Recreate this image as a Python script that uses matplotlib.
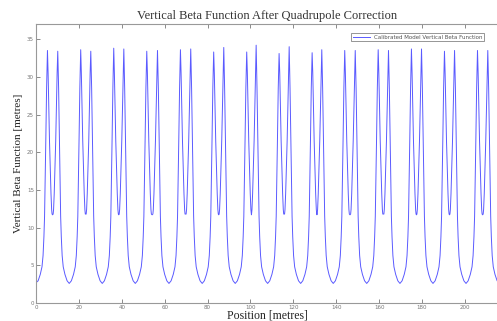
import numpy as np
import matplotlib
matplotlib.use("Agg")
import matplotlib.pyplot as plt

# --- values ----------------------------------------------------------------
# lattice minima (position m, beta m)
MIN_POS = [0.0, 15.5, 30.9, 46.3, 62.0, 77.5, 92.9, 108.0, 123.4, 138.6,
           154.2, 169.7, 185.1, 200.5, 216.0]
MIN_VAL = [2.7, 2.6, 2.6, 2.6, 2.6, 2.6, 2.6, 2.6, 2.6, 2.6,
           2.6, 2.6, 2.6, 2.6, 2.6]
# twin peaks in each cell and the dip between them
PEAK_L = [33.5, 33.6, 33.8, 33.4, 33.6, 33.3, 33.3, 33.1, 33.2, 33.5, 33.6, 33.7, 33.4, 33.5]
PEAK_R = [33.4, 33.4, 33.7, 33.5, 33.7, 33.9, 34.2, 34.0, 33.6, 33.5, 33.5, 33.7, 33.5, 33.5]
DIP_VAL = [11.7, 11.8, 11.7, 11.7, 11.8, 11.7, 11.7, 11.8, 11.7, 11.7, 11.8, 11.7, 11.7, 11.7]

# shape of a half cell, distance from the minimum (m) vs beta (m)
HALF_U = [1.0, 2.0, 2.8, 3.3, 3.7, 4.0, 4.3, 4.6, 4.95, 5.35, 5.65, 6.0, 6.3, 6.7, 7.0, 7.3, 7.5]
HALF_V = [2.95, 3.8, 4.8, 6.3, 8.8, 11.5, 16.5, 22.0, 28.5, 33.5, 30.5, 25.5, 21.5, 17.5, 14.5, 12.4, 11.8]
PEAK_IDX = 9

X_TICKS = [0, 20, 40, 60, 80, 100, 120, 140, 160, 180, 200]
Y_TICKS = [0, 5, 10, 15, 20, 25, 30, 35]

# --- build the polyline ----------------------------------------------------
xs, ys = [], []
for k in range(len(PEAK_L)):
    m0, m1 = MIN_POS[k], MIN_POS[k + 1]
    left = list(HALF_V)
    left[PEAK_IDX] = PEAK_L[k]
    right = list(HALF_V)
    right[PEAK_IDX] = PEAK_R[k]
    xs.append(m0); ys.append(MIN_VAL[k])
    xs += [m0 + u for u in HALF_U]; ys += left
    xs.append((m0 + m1) / 2); ys.append(DIP_VAL[k])
    xs += [m1 - u for u in HALF_U[::-1]]; ys += right[::-1]
xs.append(MIN_POS[-1]); ys.append(MIN_VAL[-1])

# --- figure ----------------------------------------------------------------
fig = plt.figure(figsize=(4.97, 3.21), dpi=100)
ax = fig.add_axes([0.0724, 0.056, 0.93, 0.869])
ax.plot(xs, ys, color="#5a5aff", linewidth=0.7,
        label="Calibrated Model Vertical Beta Function")

ax.set_xlim(0, 215.5)
ax.set_ylim(0, 37)
ax.set_xticks(X_TICKS)
ax.set_yticks(Y_TICKS)
ax.tick_params(direction="in", length=3, width=0.6, labelsize=4,
               colors="#777777", top=True, right=False, pad=1.5)
for sp in ax.spines.values():
    sp.set_color("#999999")
    sp.set_linewidth(0.8)
ax.spines["right"].set_visible(False)

serif = ["Liberation Serif", "DejaVu Serif"]
ax.set_title("Vertical Beta Function After Quadrupole Correction",
             family=serif, fontsize=9, color="#333333", pad=4)
ax.set_xlabel("Position [metres]", family=serif, fontsize=8.5, color="#222222")
ax.xaxis.set_label_coords(0.5, -0.022)
ax.set_ylabel("Vertical Beta Function [metres]", family=serif, fontsize=8,
              color="#222222", labelpad=3)

leg = ax.legend(loc="upper right", bbox_to_anchor=(0.975, 0.978), fontsize=4.0,
                frameon=True, fancybox=False, handlelength=3.2, borderpad=0.3,
                handletextpad=0.6, labelcolor="#555555")
leg.get_frame().set_edgecolor("#666666")
leg.get_frame().set_linewidth(0.6)

fig.savefig("out.png", dpi=100)
